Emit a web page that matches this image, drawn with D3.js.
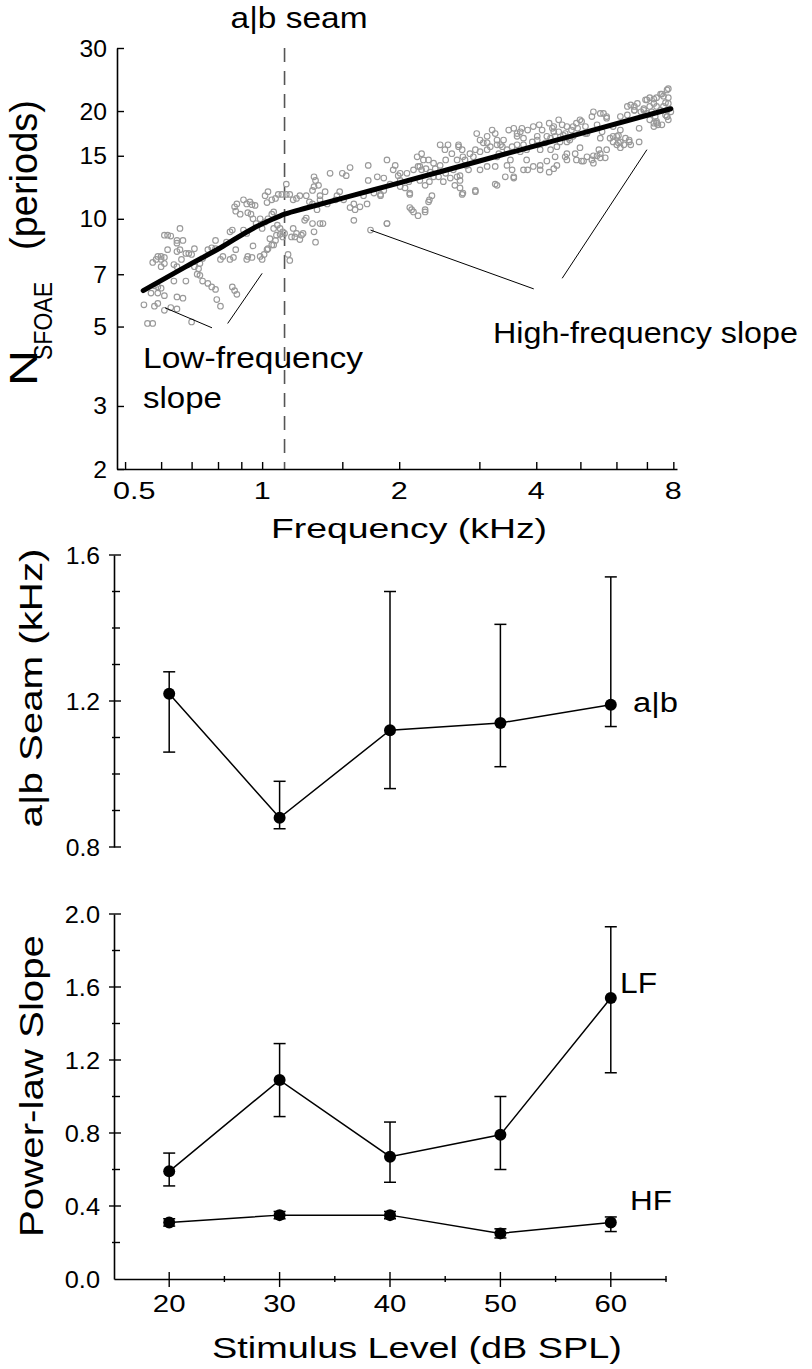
<!DOCTYPE html>
<html><head><meta charset="utf-8">
<script src="https://cdn.jsdelivr.net/npm/d3@7"></script>
<style>
body{margin:0;background:#fff}
svg{display:block;background:#fff}
text{font-family:"Liberation Sans",Arial,Helvetica,sans-serif;fill:#000}
</style></head>
<body><svg id="c" width="812" height="1369"></svg>
<script>
// ---------------- DATA ----------------
// Panel A: scatter of N_SFOAE vs frequency (kHz)
const scatterFreq = [0.66,0.61,0.62,0.63,0.65,0.67,0.65,0.66,0.65,0.59,0.60,0.61,0.585,0.60,0.575,0.61,0.60,0.62,0.64,0.65,0.665,0.68,0.69,0.70,0.71,0.71,0.725,0.73,0.72,0.73,
0.58,0.59,0.60,0.57,0.59,0.61,0.65,0.67,0.55,0.58,0.59,0.61,0.63,0.65,0.56,0.575,0.70,0.64,0.68,0.74,0.76,0.775,0.79,0.795,0.81,0.86,0.87,0.88,0.74,0.76,
0.775,0.79,0.79,0.81,0.82,0.835,0.85,0.86,0.875,0.85,0.865,0.895,0.875,0.87,0.88,0.91,0.925,0.94,0.95,0.965,0.93,0.945,0.955,0.925,0.93,0.95,0.955,0.99,1.0,1.01,
1.025,1.03,1.05,1.06,1.015,1.03,1.05,1.06,1.025,1.05,1.07,1.085,1.03,1.015,1.06,1.075,1.095,1.11,1.12,1.11,1.04,1.07,1.14,1.15,1.105,1.13,1.15,1.13,1.17,1.19,
1.21,1.18,1.21,1.22,1.23,1.24,1.25,1.29,1.30,1.31,1.34,1.36,1.27,1.29,1.30,1.31,1.30,1.33,1.34,1.375,1.41,1.45,1.48,1.50,1.53,1.56,1.60,1.59,1.56,1.67,
1.71,1.71,1.79,1.85,1.88,1.73,
1.88,1.96,1.85,1.82,1.99,2.01,2.10,2.11,2.06,2.19,2.24,2.26,2.20,2.24,2.29,2.34,2.40,2.46,2.52,2.56,2.61,2.46,2.44,2.50,2.59,2.65,2.72,2.76,2.94,2.11,
2.15,2.20,2.28,2.32,2.36,1.88,2.70,2.75,2.79,2.84,2.68,2.72,2.81,2.91,2.96,3.01,3.06,3.12,3.20,3.25,3.28,3.34,3.31,3.25,3.28,3.42,3.45,3.54,3.57,3.51,
3.48,3.57,3.63,3.69,3.75,3.83,3.94,4.06,4.12,3.81,3.83,4.08,4.27,4.22,4.37,4.40,4.30,4.44,4.51,4.37,4.56,4.67,4.78,4.90,5.03,5.13,4.99,4.87,4.67,5.17,
5.08,5.30,5.34,5.49,5.53,5.67,5.30,5.44,5.62,5.71,5.81,5.90,6.06,6.12,6.23,6.40,6.73,6.12,6.34,6.45,6.57,6.73,7.0,7.1,7.25,7.35,7.55,7.75,7.80,7.69,
7.5,7.3,7.25,7.4,7.8,7.9,7.69,5.34,
2.22,2.11,2.01,2.33,2.70,2.72,3.12,3.28,3.37,3.63,3.72,4.02,4.22,4.37,4.48,4.63,4.74,4.82,4.99,5.17,5.53,5.71,5.90,6.01,6.12,6.34,6.57,6.67,6.89,6.95,
7.10,7.5,7.8,7.75,7.35,7.25,6.40,6.06,5.53,5.34,5.03,4.63,4.44,3.57,3.25,2.94,2.75,2.33,2.28,2.13,
4.27,4.34,4.40,4.48,4.59,4.71,4.82,4.19,4.30,4.02,3.92,4.08,4.67,4.93,5.13,5.53,5.58,5.90,6.01,6.12,6.28,6.45,6.57,6.79,6.89,7.0,7.17,7.35,7.61,7.75,
7.8,7.61,7.25,7.1,7.35,7.55,7.75,3.01,3.12,3.17,3.28,3.39,3.45,3.54,3.63,3.69,3.75,2.76,2.86,2.94,2.68,2.53,2.38,2.32,2.15,2.08,1.94,1.91,2.01,2.22,
2.28,2.38,2.53,2.63,3.01,3.12,3.75,3.94,4.08,3.81,4.67,4.90,5.44,5.71,
1.25,1.29,1.32,1.34,1.39,1.46,1.51,1.59,1.64,1.70,1.76,1.82,1.17,1.16,1.19,1.08,1.095,0.99,0.97,1.0,0.91,0.925];
const scatterN = [9.4,9.0,9.0,8.95,8.7,8.7,8.55,8.2,8.1,7.85,7.85,7.8,7.7,7.7,7.55,7.5,7.35,8.2,7.45,7.35,7.7,8.0,8.0,7.95,8.25,7.35,7.25,7.5,7.0,6.95,
6.5,6.45,6.4,6.2,6.2,6.1,6.05,6.0,5.75,5.7,5.8,5.55,5.65,5.6,5.1,5.1,5.15,6.7,6.7,6.7,6.6,6.45,6.35,5.95,5.7,6.45,6.3,6.15,7.75,8.2,
8.3,8.25,8.7,7.7,7.85,8.6,9.2,9.3,8.2,7.7,7.8,10.3,10.5,10.8,11.0,11.3,11.0,11.15,10.95,10.9,10.4,10.3,10.0,7.7,7.85,7.8,8.4,7.85,7.7,7.95,
8.2,8.25,8.45,8.45,9.8,10.0,10.3,10.45,11.1,11.3,11.4,11.7,11.9,11.6,9.4,9.0,9.05,9.2,9.1,8.9,8.8,8.7,7.95,7.65,11.7,11.7,11.7,12.5,11.3,11.4,
11.6,8.9,8.75,9.0,9.1,9.9,10.05,9.7,9.2,8.6,9.7,9.7,11.15,12.0,12.3,12.8,13.1,12.4,11.6,11.9,13.4,11.3,11.9,13.4,13.2,13.9,10.6,9.9,10.75,11.6,
12.8,14.1,13.1,12.0,9.7,9.3,
14.6,14.1,13.0,11.7,13.2,12.3,12.7,11.7,12.2,14.9,15.2,14.6,14.0,13.7,13.8,13.5,13.8,16.1,15.6,16.1,15.2,14.1,13.1,12.7,13.0,12.4,12.2,11.8,12.0,10.75,
10.45,10.2,10.45,11.15,11.6,9.7,16.1,15.6,14.6,13.7,13.1,12.8,14.1,14.9,17.3,16.6,16.3,15.6,17.7,17.3,16.6,16.1,15.2,14.0,12.4,13.1,14.1,13.7,13.0,14.6,
17.7,17.9,17.3,17.5,16.8,17.7,18.1,18.3,17.7,15.6,13.7,14.1,13.5,14.5,13.8,14.9,15.6,15.9,16.4,17.5,18.3,18.1,17.7,18.5,18.7,17.3,15.8,15.2,15.2,14.9,
14.5,14.6,15.0,15.6,14.8,14.8,19.3,18.3,19.7,19.1,16.8,16.4,17.1,16.4,16.1,16.4,16.4,19.3,19.5,20.8,20.6,17.9,21.5,20.6,21.0,21.8,22.3,22.9,21.8,21.1,
20.1,19.3,18.5,18.3,18.9,19.9,19.5,19.9,
14.0,11.8,13.4,12.7,15.9,13.2,16.3,14.9,15.9,17.0,17.9,16.6,17.0,18.1,18.9,17.3,16.6,18.1,18.9,17.3,19.7,19.3,18.1,17.0,17.7,20.6,20.1,21.0,20.1,21.5,
21.8,22.3,23.1,19.3,18.5,18.1,16.6,16.3,15.2,14.3,14.5,14.9,14.1,13.1,12.5,11.9,11.7,11.3,10.6,10.6,
18.5,17.9,17.0,17.5,17.1,16.8,17.0,16.3,16.8,17.0,16.4,15.6,16.4,17.9,18.1,16.8,17.5,17.0,16.1,15.8,16.8,16.1,20.1,19.9,20.3,19.7,19.9,20.6,20.6,20.1,
21.0,22.0,21.6,18.9,18.7,18.3,19.3,15.4,17.0,15.9,16.1,16.6,15.6,15.9,16.1,15.4,16.1,14.9,15.2,15.6,14.6,14.6,14.3,14.6,13.7,13.4,13.7,12.5,12.8,12.8,
12.4,13.1,13.4,13.7,13.7,14.0,13.7,14.0,13.7,14.6,14.6,14.6,15.0,15.6,
11.6,11.0,10.6,11.3,11.0,11.6,11.3,11.0,10.8,11.0,11.8,11.6,9.4,8.9,9.1,9.6,9.4,10.0,9.7,9.4,9.3,9.1];
// Power-law fit line (kHz, periods)
const fitFreq = [0.548,0.68,0.81,0.955,1.05,1.12,1.25,1.59,1.91,3.0,5.0,7.9];
const fitN    = [6.3,7.35,8.3,9.4,9.95,10.3,10.72,11.65,12.4,14.5,17.3,20.3];
const seamFreq = 1.12;
// annotation pointer segments [freq, N]
const annotLF = [[[0.612,5.64],[0.776,4.96]], [[0.84,5.1],[1.0,7.04]]];
const annotHF = [[[1.73,9.3],[3.95,6.37]], [[4.56,6.82],[7.0,15.6]]];
const topYTicks = [2,3,5,7,10,15,20,30];
const topXTicks = [0.5,0.6,0.7,0.8,0.9,1,1.5,2,3,4,5,6,7,8];
const topXLabels = [0.5,1,2,4,8];

// Panels B & C: stimulus level (dB SPL)
const levels = [20,30,40,50,60];
const seamMean = [1.22,0.88,1.12,1.14,1.19];
const seamLo   = [1.06,0.85,0.96,1.02,1.13];
const seamHi   = [1.28,0.98,1.50,1.41,1.54];
const lfMean = [0.59,1.09,0.67,0.79,1.54];
const lfLo   = [0.51,0.89,0.53,0.60,1.13];
const lfHi   = [0.69,1.29,0.86,1.00,1.93];
const hfMean = [0.31,0.35,0.35,0.25,0.31];
const hfLo   = [0.29,0.33,0.33,0.225,0.26];
const hfHi   = [0.33,0.37,0.37,0.275,0.34];
const midYMajor = [0.8,1.2,1.6];
const midYMinor = [0.9,1.0,1.1,1.3,1.4,1.5];
const botYMajor = [0,0.4,0.8,1.2,1.6,2.0];
const botYMinor = [0.2,0.6,1.0,1.4,1.8];
const botXMajor = [20,30,40,50,60];
const botXMinor = [25,35,45,55,65];

// ---------------- DRAW ----------------
const svg = d3.select("#c");
const BLK = "#000";

function label(g, str, o){
  const t = g.append("text").text(str)
    .attr("font-size", o.size)
    .attr("text-anchor", o.anchor || "start");
  const len = t.node().getComputedTextLength();
  let sx = o.sx || 1;
  if (o.width){ sx = o.width/len; }
  let x = o.x;
  if (o.minLeft !== undefined && o.anchor === "middle"){
    const half = len*sx/2;
    if (x - half < o.minLeft) x = o.minLeft + half;
  }
  const rot = o.rotate ? ` rotate(${o.rotate})` : "";
  t.attr("transform", `translate(${x},${o.y})${rot} scale(${sx},1)`);
  return t;
}
function styleAxis(g){
  g.selectAll("path.domain").attr("stroke",BLK).attr("stroke-width",1.6);
  g.selectAll(".tick line").attr("stroke",BLK).attr("stroke-width",1.4);
  g.selectAll(".tick text").remove();
}

// ===== Panel A =====
const xA = d3.scaleLog().domain([0.48,8.15]).range([117,677]);
const yA = d3.scaleLog().domain([2,30]).range([469,48]);
const gA = svg.append("g");

// seam dashed line
gA.append("line")
  .attr("x1",xA(seamFreq)).attr("x2",xA(seamFreq))
  .attr("y1",yA(30)).attr("y2",yA(2))
  .attr("stroke","#555").attr("stroke-width",1.6).attr("stroke-dasharray","14,9");

// scatter
gA.append("g").selectAll("circle").data(scatterFreq.map((f,i)=>[f,scatterN[i]]))
  .join("circle")
  .attr("cx",d=>xA(d[0])).attr("cy",d=>yA(d[1])).attr("r",2.8)
  .attr("fill","none").attr("stroke","#999").attr("stroke-width",1.15);

// fit line
const fitLine = d3.line().x(d=>xA(d[0])).y(d=>yA(d[1])).curve(d3.curveMonotoneX);
gA.append("path").datum(fitFreq.map((f,i)=>[f,fitN[i]]))
  .attr("d",fitLine).attr("fill","none").attr("stroke",BLK)
  .attr("stroke-width",5).attr("stroke-linecap","round");

// annotation pointers
gA.append("g").selectAll("line").data(annotLF.concat(annotHF)).join("line")
  .attr("x1",d=>xA(d[0][0])).attr("y1",d=>yA(d[0][1]))
  .attr("x2",d=>xA(d[1][0])).attr("y2",d=>yA(d[1][1]))
  .attr("stroke",BLK).attr("stroke-width",1);

// axes
const axYA = gA.append("g").attr("transform",`translate(${xA.range()[0]},0)`)
  .call(d3.axisLeft(yA).tickValues(topYTicks).tickSize(-7).tickSizeOuter(0));
styleAxis(axYA);
const axXA = gA.append("g").attr("transform",`translate(0,${yA.range()[0]})`)
  .call(d3.axisBottom(xA).tickValues(topXTicks).tickSize(-7).tickSizeOuter(0));
styleAxis(axXA);

topYTicks.forEach(v=>label(gA, String(v), {x:107, y:yA(v)+8.5, size:23.5, anchor:"end", sx:1.05}));
topXLabels.forEach(v=>label(gA, String(v), {x:xA(v), y:499, size:23.5, anchor:"middle", sx:1.3, minLeft:113}));
label(gA,"Frequency (kHz)",{x:409,y:538,size:28,anchor:"middle",width:276});
label(gA,"a|b seam",{x:299,y:28,size:29,anchor:"middle",width:137});
label(gA,"Low-frequency",{x:143,y:368,size:29,width:220});
label(gA,"slope",{x:143,y:408,size:29,width:79});
label(gA,"High-frequency slope",{x:493,y:343,size:29,width:305});
// y title: N_SFOAE (periods)
label(gA,"N",{x:37,y:368,size:39,anchor:"middle",rotate:-90,width:36});
label(gA,"SFOAE",{x:52,y:321,size:25,anchor:"middle",rotate:-90,width:78});
label(gA,"(periods)",{x:37,y:175,size:39,anchor:"middle",rotate:-90,width:150});

// ===== shared x for B & C =====
const xL = d3.scaleLinear().domain([15,65]).range([114,666]);

// ===== Panel B =====
const yB = d3.scaleLinear().domain([0.8,1.6]).range([847,555]);
const gB = svg.append("g");
const axYB = gB.append("g").attr("transform",`translate(${xL.range()[0]},0)`)
  .call(d3.axisLeft(yB).tickValues([]).tickSizeOuter(0));
styleAxis(axYB);
function vTicks(g, scale, x, vals, left, right){
  g.append("g").selectAll("line").data(vals).join("line")
    .attr("x1",x-left).attr("x2",x+right)
    .attr("y1",d=>scale(d)).attr("y2",d=>scale(d))
    .attr("stroke",BLK).attr("stroke-width",1.4);
}
vTicks(gB,yB,xL.range()[0],midYMajor,5,7);
vTicks(gB,yB,xL.range()[0],midYMinor,2,6);
midYMajor.forEach(v=>label(gB, v.toFixed(1), {x:100, y:yB(v)+8.5, size:23.5, anchor:"end", sx:1.05}));

function series(g, yS, mean, lo, hi){
  const pts = levels.map((l,i)=>({x:l,m:mean[i],lo:lo[i],hi:hi[i]}));
  const eb = g.append("g").attr("stroke",BLK).attr("stroke-width",1.5);
  eb.selectAll("line.v").data(pts).join("line").attr("class","v")
    .attr("x1",d=>xL(d.x)).attr("x2",d=>xL(d.x)).attr("y1",d=>yS(d.lo)).attr("y2",d=>yS(d.hi));
  eb.selectAll("line.t").data(pts).join("line").attr("class","t")
    .attr("x1",d=>xL(d.x)-6).attr("x2",d=>xL(d.x)+6).attr("y1",d=>yS(d.hi)).attr("y2",d=>yS(d.hi));
  eb.selectAll("line.b").data(pts).join("line").attr("class","b")
    .attr("x1",d=>xL(d.x)-6).attr("x2",d=>xL(d.x)+6).attr("y1",d=>yS(d.lo)).attr("y2",d=>yS(d.lo));
  g.append("path").datum(pts).attr("fill","none").attr("stroke",BLK).attr("stroke-width",1.5)
    .attr("d",d3.line().x(d=>xL(d.x)).y(d=>yS(d.m)));
  g.append("g").selectAll("circle").data(pts).join("circle")
    .attr("cx",d=>xL(d.x)).attr("cy",d=>yS(d.m)).attr("r",6).attr("fill",BLK);
}
series(gB, yB, seamMean, seamLo, seamHi);
label(gB,"a|b",{x:633,y:712,size:28,width:45});
label(gB,"a|b Seam (kHz)",{x:42,y:688,size:32,anchor:"middle",rotate:-90,width:279});

// ===== Panel C =====
const yC = d3.scaleLinear().domain([0,2]).range([1279,914]);
const gC = svg.append("g");
const axYC = gC.append("g").attr("transform",`translate(${xL.range()[0]},0)`)
  .call(d3.axisLeft(yC).tickValues([]).tickSizeOuter(0));
styleAxis(axYC);
vTicks(gC,yC,xL.range()[0],botYMajor.slice(1),5,7);
vTicks(gC,yC,xL.range()[0],botYMinor,2,6);
const axXC = gC.append("g").attr("transform",`translate(0,${yC(0)})`)
  .call(d3.axisBottom(xL).tickValues([]).tickSizeOuter(0));
styleAxis(axXC);
function hTicks(g, scale, y, vals, up, down){
  g.append("g").selectAll("line").data(vals).join("line")
    .attr("x1",d=>scale(d)).attr("x2",d=>scale(d))
    .attr("y1",y-up).attr("y2",y+down)
    .attr("stroke",BLK).attr("stroke-width",1.4);
}
hTicks(gC,xL,yC(0),botXMajor,7,8);
hTicks(gC,xL,yC(0),botXMinor,3,3);
botYMajor.forEach(v=>label(gC, v.toFixed(1), {x:100, y:yC(v)+8.5, size:23.5, anchor:"end", sx:1.08}));
botXMajor.forEach(v=>label(gC, String(v), {x:xL(v), y:1312, size:23.5, anchor:"middle", sx:1.25}));
series(gC, yC, lfMean, lfLo, lfHi);
series(gC, yC, hfMean, hfLo, hfHi);
label(gC,"LF",{x:620,y:993,size:30,width:37});
label(gC,"HF",{x:630,y:1210,size:28,width:42});
label(gC,"Power-law Slope",{x:43,y:1086,size:33,anchor:"middle",rotate:-90,width:302});
label(gC,"Stimulus Level (dB SPL)",{x:417,y:1358,size:30,anchor:"middle",width:410});
</script>
</body></html>
